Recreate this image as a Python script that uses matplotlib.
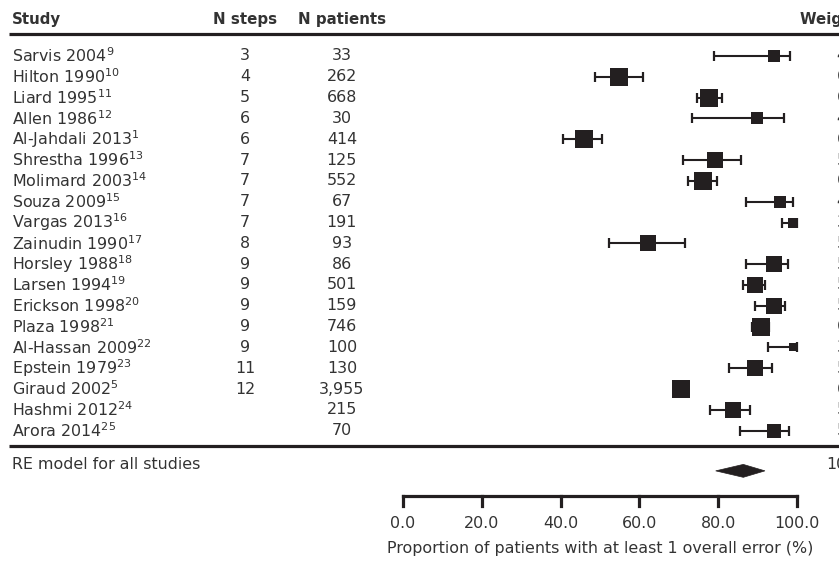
"""Forest plot: proportion of patients with at least one overall inhaler error."""
import matplotlib.pyplot as plt
from matplotlib.patches import Polygon

plt.rcParams["font.family"] = ["DejaVu Sans"]
plt.rcParams["mathtext.fontset"] = "dejavusans"

# ---------------------------------------------------------------------------
# data
# ---------------------------------------------------------------------------
studies = ["Sarvis 2004", "Hilton 1990", "Liard 1995", "Allen 1986", "Al-Jahdali 2013",
           "Shrestha 1996", "Molimard 2003", "Souza 2009", "Vargas 2013", "Zainudin 1990",
           "Horsley 1988", "Larsen 1994", "Erickson 1998", "Plaza 1998", "Al-Hassan 2009",
           "Epstein 1979", "Giraud 2002", "Hashmi 2012", "Arora 2014"]
refs = ["9", "10", "11", "12", "1", "13", "14", "15", "16", "17",
        "18", "19", "20", "21", "22", "23", "5", "24", "25"]
n_steps = ["3", "4", "5", "6", "6", "7", "7", "7", "7", "8",
           "9", "9", "9", "9", "9", "11", "12", "", ""]
n_patients = ["33", "262", "668", "30", "414", "125", "552", "67", "191", "93",
              "86", "501", "159", "746", "100", "130", "3,955", "215", "70"]
est = [94.2, 54.9, 77.8, 89.8, 45.9, 79.2, 76.2, 95.8, 98.9, 62.3,
       94.1, 89.3, 94.2, 90.9, 99.0, 89.3, 70.5, 83.8, 94.2]
lo = [79.0, 48.8, 74.6, 73.4, 40.7, 71.1, 72.4, 87.0, 96.3, 52.4,
      87.0, 86.4, 89.5, 88.6, 92.7, 82.7, 69.0, 78.0, 85.5]
hi = [98.3, 60.9, 81.0, 96.8, 50.6, 85.7, 79.7, 99.0, 100.0, 71.7,
      97.7, 91.9, 97.1, 93.0, 100.0, 93.7, 71.9, 88.2, 98.0]
weights = [4.12, 6.03, 6.21, 4.33, 6.18, 5.62, 6.11, 4.24, 3.41, 5.63,
           5.51, 5.64, 5.47, 6.32, 3.02, 5.42, 6.39, 5.63, 5.02]
re_est, re_lo, re_hi = 86.4, 79.4, 91.9
xticks = [0, 20, 40, 60, 80, 100]

INK = "#231f20"
TXT = "#333333"

# column positions, in x data units (0..100 is the plot scale)
STUDY_X = -99.2
STEPS_X = -40.1
PAT_X = -15.5
WHDR_X = 100.8
WEIGHT_X = 116.5
LINE_X0 = -100.0

fig = plt.figure(figsize=(8.39, 5.61), dpi=100)
ax = fig.add_axes([0, 0, 1, 1])
ax.set_xlim(-102.3, 110.7)
ax.set_ylim(24.26, -2.69)
ax.axis("off")

fs = 11.4      # body text
hfs = 10.8     # bold header


def label(x, y, s, **kw):
    ax.text(x, y, s, fontsize=kw.pop("size", fs), color=TXT, va="center", **kw)


# header
label(STUDY_X, -1.73, "Study", size=hfs, fontweight="bold")
label(STEPS_X, -1.73, "N steps", size=hfs, fontweight="bold", ha="center")
label(PAT_X, -1.73, "N patients", size=hfs, fontweight="bold", ha="center")
label(WHDR_X, -1.73, "Weight (%)", size=hfs, fontweight="bold")
ax.plot([LINE_X0, 120], [-1.06, -1.06], color=INK, lw=2.3, solid_capstyle="butt", clip_on=False)

# studies
for i, (name, ref) in enumerate(zip(studies, refs)):
    label(STUDY_X, i, f"{name}$^{{\\mathrm{{{ref}}}}}$")
    label(STEPS_X, i, n_steps[i], ha="center")
    label(PAT_X, i, n_patients[i], ha="center")
    label(WEIGHT_X, i, f"{weights[i]:.2f}%", ha="center")
    ax.errorbar(est[i], i, xerr=[[est[i] - lo[i]], [hi[i] - est[i]]], fmt="none",
                ecolor=INK, elinewidth=1.5, capsize=3.3, capthick=1.6)
    ax.plot(est[i], i, marker="s", ms=2.05 * weights[i], color=INK, mec=INK, mew=0, zorder=3)

bottom = len(studies) - 0.27
ax.plot([LINE_X0, 120], [bottom, bottom], color=INK, lw=2.3, solid_capstyle="butt", clip_on=False)

# random-effects summary
re_y = len(studies) + 0.64
label(STUDY_X, re_y, "RE model for all studies")
label(WEIGHT_X, re_y, "100.00%", ha="center")
dy = re_y + 0.29
h = 0.31
ax.add_patch(Polygon([(re_lo, dy), (re_est, dy - h), (re_hi, dy), (re_est, dy + h)],
                     closed=True, facecolor=INK, edgecolor=INK, lw=0.5))

# x scale
axis_y = len(studies) + 2.13
tick_len = 0.48
ax.plot([xticks[0], xticks[-1]], [axis_y, axis_y], color=INK, lw=2.3, solid_capstyle="projecting")
for t in xticks:
    ax.plot([t, t], [axis_y, axis_y + tick_len], color=INK, lw=2.3, solid_capstyle="projecting")
    label(t, axis_y + 1.35, f"{t:.1f}", ha="center")
label(50, axis_y + 2.55, "Proportion of patients with at least 1 overall error (%)", ha="center")

fig.savefig("out.png", dpi=100)
plt.close(fig)
